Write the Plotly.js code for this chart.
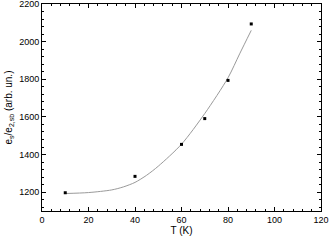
<!DOCTYPE html>
<html><head><meta charset="utf-8">
<script src="https://cdn.plot.ly/plotly-3.0.1.min.js"></script>
<style>html,body{margin:0;padding:0;background:#fff;}</style>
</head><body>
<div id="chart" style="width:331px;height:244px;"></div>
<script>
const tempK = [10, 40, 60, 70, 80, 90];
const ratio = [1197, 1284, 1454, 1591, 1794, 2094];
const fitT = [10, 20, 30, 35, 40, 45, 50, 60, 70, 80, 85, 90];
const fitRatio = [1193, 1198, 1212, 1228, 1252, 1290, 1338, 1455, 1618, 1808, 1935, 2060];
const xTickVals = [0, 20, 40, 60, 80, 100, 120];
const yTickVals = [1200, 1400, 1600, 1800, 2000, 2200];

const data = [
  {x: fitT, y: fitRatio, mode: 'lines', type: 'scatter',
   line: {color: '#9a9a9a', width: 1, shape: 'spline', smoothing: 0.8}, hoverinfo: 'skip'},
  {x: tempK, y: ratio, mode: 'markers', type: 'scatter',
   marker: {symbol: 'square', size: 3, color: '#000'}}
];
const axisCommon = {
  showgrid: false, zeroline: false, showline: true, linecolor: '#000', linewidth: 1,
  mirror: 'allticks', ticks: 'inside', ticklen: 4, tickwidth: 1, tickcolor: '#000',
  ticklabeloverflow: 'allow',
  tickfont: {family: 'Liberation Sans, Arial, sans-serif', size: 9, color: '#000'}
};
const layout = {
  width: 331, height: 244,
  margin: {l: 42, r: 10, t: 4, b: 33},
  showlegend: false,
  paper_bgcolor: '#fff', plot_bgcolor: '#fff',
  xaxis: Object.assign({}, axisCommon, {
    range: [0, 120], tickvals: xTickVals,
    minor: {dtick: 4, ticks: 'inside', ticklen: 2, tickcolor: '#000'},
    title: {text: 'T (K)', font: {family: 'Liberation Sans, Arial, sans-serif', size: 10, color: '#000'}, standoff: 3}
  }),
  yaxis: Object.assign({}, axisCommon, {
    range: [1100, 2200], tickvals: yTickVals,
    minor: {dtick: 40, ticks: 'inside', ticklen: 2, tickcolor: '#000'},
    title: {text: 'e<sub>s</sub>/e<sub>2,sb</sub> (arb. un.)', font: {family: 'Liberation Sans, Arial, sans-serif', size: 10, color: '#000'}, standoff: 4}
  })
};
Plotly.newPlot('chart', data, layout, {staticPlot: true, displayModeBar: false});
</script>
</body></html>
